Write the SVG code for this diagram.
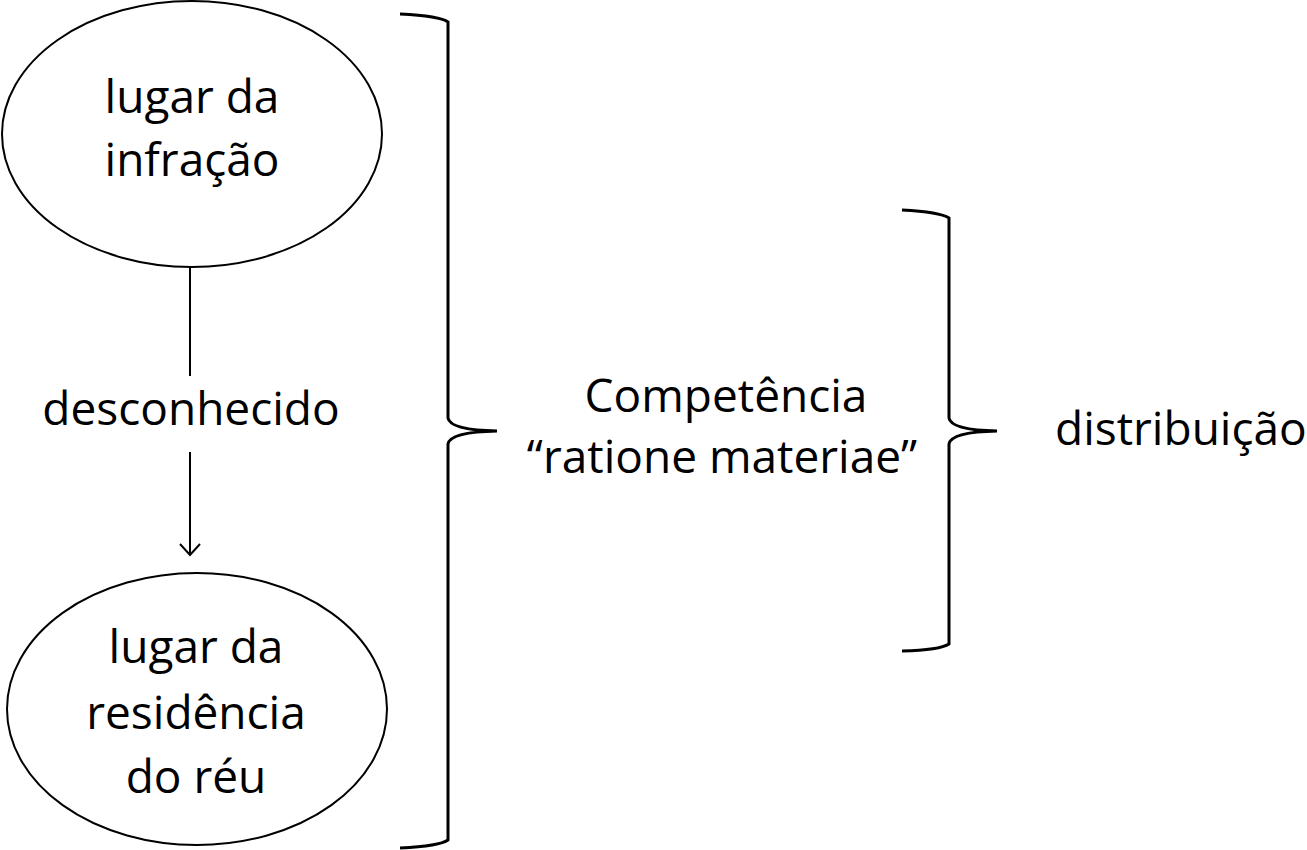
<svg xmlns="http://www.w3.org/2000/svg" width="1307" height="850" viewBox="0 0 1307 850">
<style>
.shape{fill:none;stroke:#000;stroke-width:2}
.brace{fill:none;stroke:#000;stroke-width:3}
.t{font-family:"Open Sans","Liberation Sans",sans-serif;font-size:46px;fill:#000;text-anchor:middle}
</style>
<defs>
<marker id="arr" markerWidth="24" markerHeight="24" refX="12" refY="12" orient="auto" markerUnits="userSpaceOnUse">
<path d="M1,2 L12,12 L1,22" fill="none" stroke="#000" stroke-width="2"/>
</marker>
</defs>
<rect width="1307" height="850" fill="#fff"/>
<g id="node-infracao">
<ellipse class="shape" cx="192" cy="134" rx="190" ry="133"/>
<text class="t" x="192" y="113">lugar da</text>
<text class="t" x="192" y="176">infração</text>
</g>
<g id="node-residencia">
<ellipse class="shape" cx="197" cy="709" rx="190" ry="136"/>
<text class="t" x="196" y="663">lugar da</text>
<text class="t" x="196" y="729">residência</text>
<text class="t" x="196" y="793">do réu</text>
</g>
<g id="connectors">
<line class="shape" x1="190" y1="267" x2="190" y2="376"/>
<text class="t" x="191" y="425">desconhecido</text>
<line class="shape" x1="190" y1="452" x2="190" y2="555" marker-end="url(#arr)"/>
</g>
<g id="brace1">
<path class="brace" d="M400,14 Q440,16 448,22 L448,418 Q450,430 497,431 Q450,432 448,444 L448,840 Q440,846 400,848"/>
</g>
<g id="brace2">
<path class="brace" d="M902,210 Q940,212 949,218 L949,418 Q951,430 997,431 Q951,432 949,444 L949,644 Q940,650 902,651"/>
</g>
<g id="node-competencia">
<text class="t" x="726" y="412">Competência</text>
<text class="t" x="722" y="473">“ratione materiae”</text>
</g>
<g id="node-distribuicao">
<text class="t" x="1055" y="445" style="text-anchor:start">distribuição</text>
</g>
</svg>
